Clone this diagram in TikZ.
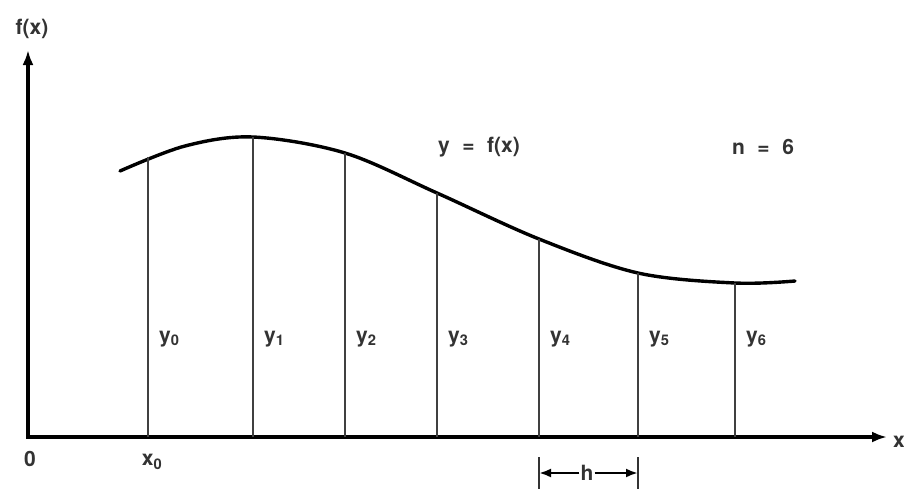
\documentclass[tikz,border=0pt]{standalone}
\usepackage{fontspec}
\setmainfont{TeX Gyre Heros}
\usetikzlibrary{arrows.meta,positioning}
\newcommand{\eqsp}{\hspace{0.6em}}

\begin{document}
\begin{tikzpicture}[
  x=1pt, y=-1pt,
  axis/.style={draw, line width=3.4pt, -{Latex[length=15pt,width=11pt]}},
  curve/.style={draw, line width=3.4pt, line cap=round},
  ordinate/.style={draw, line width=2.4pt, black!75},
  lbl/.style={inner sep=1pt, font=\fontsize{21}{24}\selectfont\bfseries, text=black!80},
  tick/.style={draw, line width=2.4pt, black!80},
  dim/.style={draw, line width=2.6pt, -{Latex[length=12pt,width=9pt]}},
]
\useasboundingbox (0,0) rectangle (904,490);

% axes
\coordinate (origin) at (28,437);
\coordinate (ytop) at (28,50);
\coordinate (xend) at (887,437);
\draw[axis] ([yshift=1.7pt]origin) -- (ytop);
\draw[axis] ([xshift=-1.7pt]origin) -- (xend);
\node[lbl] (fx) at (32,29) {f(x)};
\node[lbl, anchor=west] (xlab) at (892,442) {x};
\node[lbl] (zero) at (30,459) {0};

% the function
\draw[curve] plot[smooth, tension=0.55] coordinates {
  (120,171) (185,146) (253,137) (345,153) (437,193)
  (539,239) (638,273) (735,283) (795,281)};
\node[lbl] (fname) at (479,147) {y\eqsp=\eqsp f(x)};
\node[lbl] (nval) at (763,147) {n\eqsp=\eqsp 6};

% ordinates y_0 ... y_6
\foreach \i/\xx/\yy in {0/148/157, 1/253/137, 2/345/153, 3/437/193,
                        4/539/239, 5/638/273, 6/735/283} {
  \coordinate (b\i) at (\xx,437);
  \coordinate (t\i) at (\xx,\yy);
  \draw[ordinate] (b\i) -- (t\i);
  \node[lbl, anchor=west] (y\i) at (\xx+10,339) {y\textsubscript{\i}};
}
\node[lbl] (x0) at (152,462) {x\textsubscript{0}};

% step width h
\coordinate (h1) at (539,457);
\coordinate (h2) at (638,457);
\draw[tick] (h1) -- ++(0,32);
\draw[tick] (h2) -- ++(0,32);
\node[lbl] (hlab) at (587,473) {h};
\draw[dim] (hlab.west) -- (h1 |- hlab);
\draw[dim] (hlab.east) -- (h2 |- hlab);
\end{tikzpicture}
\end{document}
